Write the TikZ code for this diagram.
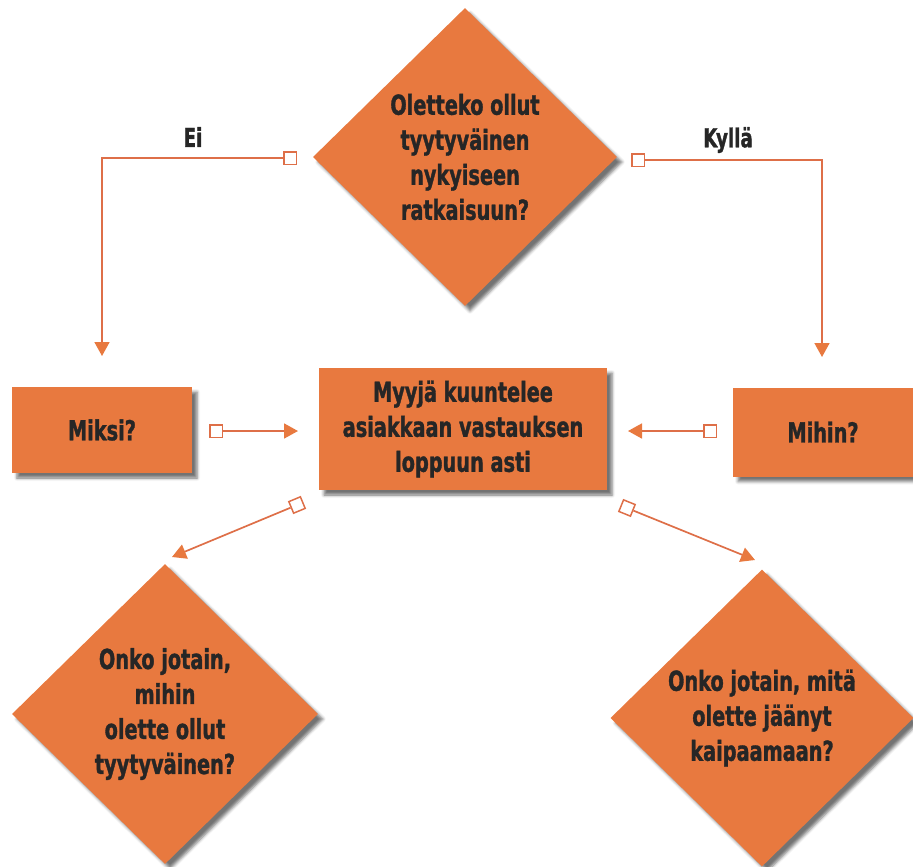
\documentclass[tikz,border=0pt]{standalone}
\usepackage{fontspec}
\newfontfamily\lblfont{DejaVu Sans Condensed Bold}[FakeStretch=0.78,FakeBold=1.2]
\usetikzlibrary{shapes.geometric,arrows.meta,shadows.blur}
\definecolor{orfill}{HTML}{E8793F}
\definecolor{orline}{HTML}{DE6F48}
\definecolor{txt}{HTML}{262626}
\tikzset{
  box/.style={draw=none, fill=orfill, text=txt, align=center, inner sep=0pt,
    font=\lblfont\fontsize{27.5}{35}\selectfont,
    blur shadow={shadow xshift=5pt, shadow yshift=-5pt, shadow opacity=55, shadow blur radius=3pt}},
  dia/.style={box, diamond, aspect=1},
  sq/.style={rectangle, draw=orline, fill=white, line width=1.5pt, minimum size=12.5pt, inner sep=0pt},
  conn/.style={draw=orline, line width=1.7pt, -{Triangle[width=15pt,length=14pt,fill=orfill,color=orfill]}},
  lab/.style={text=txt, font=\lblfont\fontsize{26}{28}\selectfont, inner sep=0pt}
}
\begin{document}
\begin{tikzpicture}[x=1pt,y=-1pt]
\useasboundingbox (0,0) rectangle (913,867);
% shapes
\node[dia, minimum width=304pt, minimum height=298pt] (q1) at (465,157) {Oletteko ollut\\tyytyväinen\\nykyiseen\\ratkaisuun?};
\node[box, minimum width=180pt, minimum height=86pt] (miksi) at (102,430) {Miksi?};
\node[box, minimum width=288pt, minimum height=122pt] (myyja) at (463,429) {Myyjä kuuntelee\\asiakkaan vastauksen\\loppuun asti};
\node[box, minimum width=180pt, minimum height=89pt] (mihin) at (823,432) {Mihin?};
\node[dia, minimum width=306pt, minimum height=300pt] (q2) at (165,714) {Onko jotain,\\mihin\\olette ollut\\tyytyväinen?};
\node[dia, minimum width=303pt, minimum height=297pt] (q3) at (762,718) {Onko jotain, mitä\\olette jäänyt\\kaipaamaan?};
% labels
\node[lab] (ei) at (193,137) {Ei};
\node[lab] (kylla) at (728,140) {Kyllä};
% connectors
\node[sq] (s1) at (290,158) {};
\coordinate (t1) at (102,356);
\draw[conn] (s1.west) -| (t1);
\node[sq] (s2) at (638,160) {};
\coordinate (t2) at (822,357);
\draw[conn] (s2.east) -| (t2);
\node[sq] (s3) at (216,431) {};
\coordinate (t3) at (298,431);
\draw[conn] (s3.east) -- (t3);
\node[sq] (s4) at (710,431) {};
\coordinate (t4) at (628,431);
\draw[conn] (s4.west) -- (t4);
\node[sq, rotate=22.6] (s5) at (297,505) {};
\coordinate (t5) at (172,557);
\draw[conn] (s5) -- (t5);
\node[sq, rotate=-22.1] (s6) at (627,508) {};
\coordinate (t6) at (755,560);
\draw[conn] (s6) -- (t6);
\end{tikzpicture}
\end{document}
